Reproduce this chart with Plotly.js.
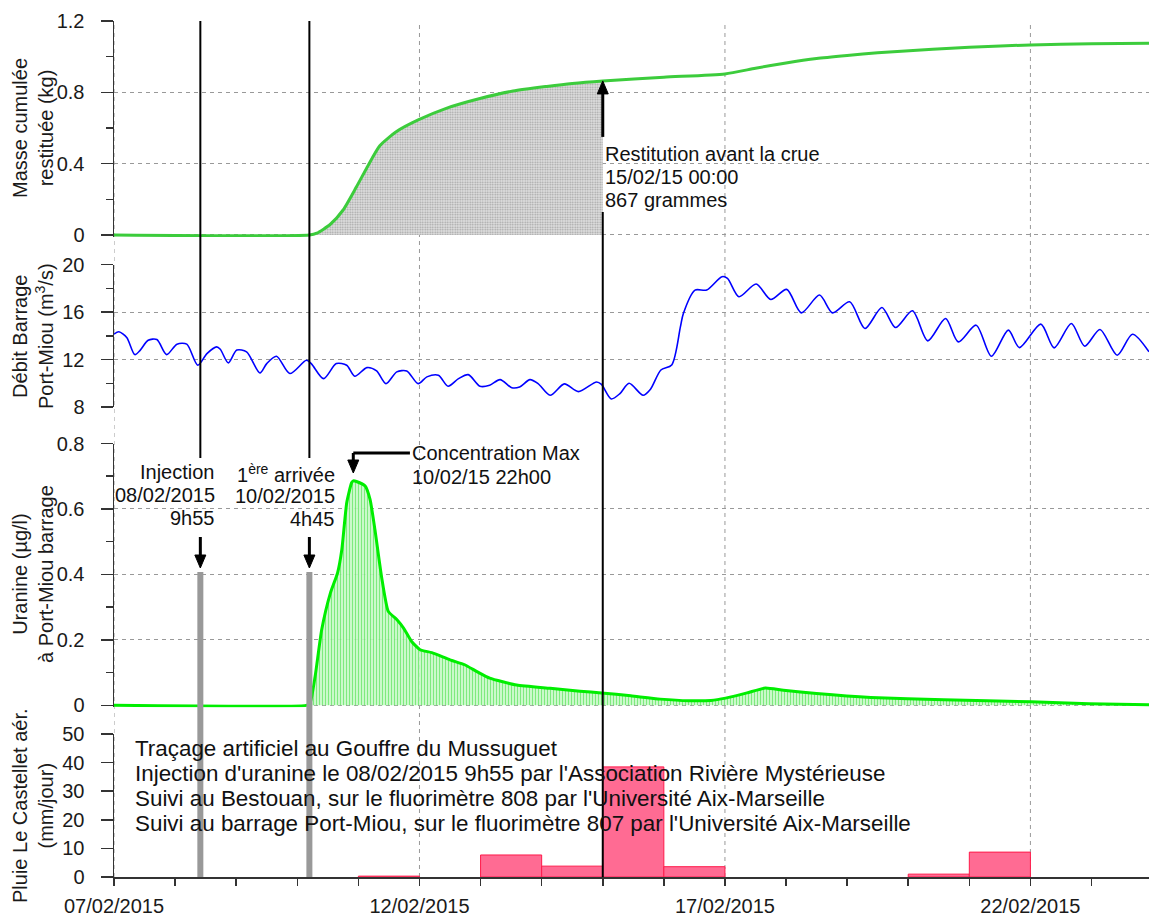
<!DOCTYPE html>
<html><head><meta charset="utf-8">
<script src="https://cdn.plot.ly/plotly-3.0.1.min.js"></script>
<style>html,body{margin:0;padding:0;background:#fff}#chart{width:1149px;height:921px}</style>
</head><body><div id="chart"></div>
<script>
// ---- Data ----
const massTime = ['2015-02-07 00:00','2015-02-10 04:45','2015-02-10 07:40','2015-02-10 13:00','2015-02-10 18:00','2015-02-10 23:15','2015-02-11 03:50','2015-02-11 08:25','2015-02-11 15:00','2015-02-11 23:30','2015-02-12 10:30','2015-02-12 23:45','2015-02-13 12:45','2015-02-14 02:00','2015-02-14 12:00','2015-02-15 00:00','2015-02-16 00:00','2015-02-17 00:00','2015-02-17 12:00','2015-02-18 00:00','2015-02-18 12:00','2015-02-19 00:00','2015-02-19 12:00','2015-02-20 09:35','2015-02-21 00:00','2015-02-22 00:00','2015-02-23 00:00','2015-02-23 22:50'];
const massKg = [0,0,0.01,0.06,0.14,0.27,0.39,0.50,0.58,0.645,0.71,0.765,0.807,0.833,0.85,0.864,0.885,0.903,0.935,0.965,0.99,1.007,1.022,1.042,1.053,1.066,1.072,1.075];

const flowTime = ['2015-02-07 00:00','2015-02-07 01:55','2015-02-07 05:00','2015-02-07 08:10','2015-02-07 10:20','2015-02-07 13:25','2015-02-07 16:50','2015-02-07 20:40','2015-02-08 00:45','2015-02-08 04:35','2015-02-08 08:55','2015-02-08 12:30','2015-02-08 16:20','2015-02-08 17:45','2015-02-08 20:55','2015-02-09 00:15','2015-02-09 04:05','2015-02-09 09:20','2015-02-09 12:00','2015-02-09 15:50','2015-02-09 21:05','2015-02-10 03:35','2015-02-10 05:30','2015-02-10 10:20','2015-02-10 15:20','2015-02-10 19:25','2015-02-10 22:35','2015-02-11 03:20','2015-02-11 07:10','2015-02-11 10:50','2015-02-11 15:05','2015-02-11 19:00','2015-02-11 23:30','2015-02-12 02:55','2015-02-12 07:25','2015-02-12 11:15','2015-02-12 15:20','2015-02-12 19:10','2015-02-12 23:45','2015-02-13 03:35','2015-02-13 07:40','2015-02-13 12:15','2015-02-13 15:20','2015-02-13 19:25','2015-02-13 22:35','2015-02-14 03:20','2015-02-14 08:55','2015-02-14 14:25','2015-02-14 21:35','2015-02-14 23:30','2015-02-15 03:20','2015-02-15 06:45','2015-02-15 10:20','2015-02-15 15:50','2015-02-15 18:45','2015-02-15 22:50','2015-02-16 03:05','2015-02-16 06:30','2015-02-16 07:40','2015-02-16 12:15','2015-02-16 16:50','2015-02-16 22:50','2015-02-17 01:00','2015-02-17 05:30','2015-02-17 12:15','2015-02-17 18:00','2015-02-18 00:15','2015-02-18 06:00','2015-02-18 13:10','2015-02-18 18:15','2015-02-19 01:00','2015-02-19 07:00','2015-02-19 13:40','2015-02-19 19:00','2015-02-20 01:40','2015-02-20 07:40','2015-02-20 14:40','2015-02-20 19:40','2015-02-21 02:40','2015-02-21 08:40','2015-02-21 15:20','2015-02-21 19:40','2015-02-22 04:05','2015-02-22 09:20','2015-02-22 16:05','2015-02-22 21:20','2015-02-23 03:20','2015-02-23 10:05','2015-02-23 16:05','2015-02-23 22:35'];
const flowM3s = [14.14,14.34,13.86,12.42,12.8,13.63,13.69,12.42,13.3,13.3,11.52,12.5,13.07,12.87,11.72,12.8,12.65,10.87,11.66,12.28,10.82,11.94,11.66,10.39,11.66,11.52,10.59,11.32,11.04,9.97,10.96,11.04,9.97,10.54,10.68,9.75,10.39,10.73,9.75,9.83,10.31,9.63,9.69,10.31,9.97,8.99,9.95,9.30,10.11,9.9,8.68,9.13,10.0,8.99,9.5,11.12,11.55,14.76,15.89,17.86,17.86,18.99,18.85,17.30,18.37,17.07,17.92,15.94,17.44,15.94,16.87,14.62,16.39,14.70,16.11,13.58,15.46,13.49,14.90,12.28,14.48,13.01,14.99,12.99,15.04,13.13,14.54,12.37,14.14,12.65];

const uranineTime = ['2015-02-07 00:00','2015-02-10 03:35','2015-02-10 05:00','2015-02-10 07:00','2015-02-10 09:35','2015-02-10 13:00','2015-02-10 15:50','2015-02-10 17:30','2015-02-10 19:25','2015-02-10 21:20','2015-02-10 22:00','2015-02-10 23:15','2015-02-11 02:40','2015-02-11 04:35','2015-02-11 06:30','2015-02-11 09:05','2015-02-11 11:45','2015-02-11 15:05','2015-02-11 17:45','2015-02-11 20:55','2015-02-12 00:15','2015-02-12 04:50','2015-02-12 12:00','2015-02-12 17:45','2015-02-12 22:35','2015-02-13 03:35','2015-02-13 14:10','2015-02-14 03:20','2015-02-14 15:05','2015-02-14 23:30','2015-02-15 11:00','2015-02-15 22:35','2015-02-16 09:50','2015-02-16 18:30','2015-02-17 00:15','2015-02-17 08:40','2015-02-17 15:50','2015-02-17 23:00','2015-02-18 12:00','2015-02-19 09:20','2015-02-20 13:55','2015-02-22 00:15','2015-02-22 23:00','2015-02-23 22:50'];
const uranineUgL = [0,0,0.006,0.088,0.231,0.343,0.405,0.476,0.619,0.680,0.686,0.684,0.670,0.629,0.537,0.394,0.287,0.262,0.236,0.195,0.170,0.161,0.139,0.124,0.103,0.083,0.062,0.052,0.043,0.038,0.029,0.019,0.014,0.015,0.022,0.038,0.053,0.046,0.036,0.024,0.017,0.011,0.005,0.002];

const rainDay = ['2015-02-11','2015-02-13','2015-02-14','2015-02-15','2015-02-16','2015-02-20','2015-02-21'];
const rainMm = [0.3,7.7,3.8,38.5,3.6,1.0,8.7];

const injectionTime = '2015-02-08 09:55';
const arrivalTime = '2015-02-10 04:45';
const peakTime = '2015-02-10 22:00';
const restitutionTime = '2015-02-15 00:00';
const gridDates = ['2015-02-07','2015-02-12','2015-02-17','2015-02-22'];

const yTitles = ['Masse cumulée<br>restituée (kg)', 'Débit Barrage<br>Port-Miou (m<sup>3</sup>/s)', 'Uranine (µg/l)<br>à Port-Miou barrage', 'Pluie Le Castellet aér.<br>(mm/jour)'];
const infoLines = [
  'Traçage artificiel au Gouffre du Mussuguet',
  "Injection d'uranine le 08/02/2015 9h55 par l'Association Rivière Mystérieuse",
  "Suivi au Bestouan, sur le fluorimètre 808 par l'Université Aix-Marseille",
  "Suivi au barrage Port-Miou, sur le fluorimètre 807 par l'Université Aix-Marseille"
];

// ---- Layout helpers (pixel positions -> paper fractions) ----
const ML = 114, MB = 44, PW = 1149 - ML, PH = 921 - MB;
const py = p => (PH - p) / PH;
const px = p => (p - ML) / PW;
const FONT = 'Liberation Sans, Arial, sans-serif';
const DAY = 86400000;

const massFillIdx = massTime.map((t,i)=>i).filter(i => massTime[i] <= restitutionTime);

const traces = [
  {x: massFillIdx.map(i=>massTime[i]), y: massFillIdx.map(i=>massKg[i]), xaxis:'x', yaxis:'y', type:'scatter', mode:'lines',
   line:{width:0, color:'rgba(0,0,0,0)', shape:'spline', smoothing:0.6}, fill:'tozeroy', fillcolor:'#dcdcdc',
   fillpattern:{shape:'.', size:2.5, solidity:0.4, fgcolor:'#a0a0a0', bgcolor:'#e2e2e2'}, hoverinfo:'skip'},
  {x: massTime, y: massKg, xaxis:'x', yaxis:'y', type:'scatter', mode:'lines', line:{color:'#3ccc3c', width:3, shape:'spline', smoothing:0.6}},
  {x: flowTime, y: flowM3s, xaxis:'x', yaxis:'y2', type:'scatter', mode:'lines', line:{color:'#0000ff', width:1.6, shape:'spline', smoothing:0.8}},
  {x: uranineTime, y: uranineUgL, xaxis:'x', yaxis:'y3', type:'scatter', mode:'lines', line:{color:'#00ee00', width:3, shape:'spline', smoothing:0.5},
   fill:'tozeroy', fillcolor:'rgba(190,255,190,0.8)',
   fillpattern:{shape:'|', size:3, solidity:0.4, fgcolor:'rgba(0,210,0,0.4)', bgcolor:'rgba(205,250,205,0.9)'}},
  {x: rainDay.map(d => d + ' 12:00'), y: rainMm, xaxis:'x', yaxis:'y4', type:'bar', width: DAY,
   marker:{color:'#ff6b93', line:{color:'#ff1a4a', width:1}}}
];

const tickFont = {family: FONT, size: 20, color:'#1a1a1a'};
function yax(domain, range, dtick, minorDtick, grid) {
  const a = {domain, range, anchor:'x', dtick, tick0:0, showline:true, linecolor:'#333', linewidth:1.5,
    ticks:'outside', ticklen:12, tickwidth:1.5, tickcolor:'#333', tickfont:tickFont, ticklabelstandoff:12,
    showgrid:grid, gridcolor:'#999', gridwidth:1, griddash:'4px,4px', zeroline:false, fixedrange:true};
  if (minorDtick) a.minor = {dtick:minorDtick, tick0:0, ticks:'outside', ticklen:7, tickwidth:1.5, tickcolor:'#333', showgrid:false};
  return a;
}

const shapes = [];
gridDates.forEach(d => shapes.push({type:'line', xref:'x', yref:'paper', x0:d, x1:d, y0:0, y1:py(21), layer:'below',
  line:{color:'#999', width:1, dash:'4px,4px'}}));
[injectionTime, arrivalTime].forEach(t => {
  shapes.push({type:'line', xref:'x', yref:'paper', x0:t, x1:t, y0:py(458), y1:py(21), line:{color:'#000', width:2}});
  shapes.push({type:'line', xref:'x', yref:'paper', x0:t, x1:t, y0:0, y1:py(572), line:{color:'#999', width:6}});
});
shapes.push({type:'line', xref:'x', yref:'paper', x0:restitutionTime, x1:restitutionTime, y0:0, y1:py(212), line:{color:'#000', width:2}});
const maxLabelTime = '2015-02-11 20:15';
shapes.push({type:'line', xref:'x', yref:'paper', x0:peakTime, x1:maxLabelTime, y0:py(453), y1:py(453), line:{color:'#000', width:3}});

// arrows drawn as shapes: shaft + filled triangular head (pixel-sized, anchored on the data position)
function arrowShape(xval, yref, yval, shaftLen, dir) {
  // dir = -1 : arrow points down (tail above), +1 : arrow points up (tail below)
  const head = 13, half = 5.5;
  const s = -dir; // direction from tip towards tail in pixel-y (up positive)
  shapes.push({type:'line', xref:'x', yref, xsizemode:'pixel', ysizemode:'pixel', xanchor:xval, yanchor:yval,
    x0:0, x1:0, y0:s*(head-1), y1:s*shaftLen, line:{color:'#000', width:3}});
  shapes.push({type:'path', xref:'x', yref, xsizemode:'pixel', ysizemode:'pixel', xanchor:xval, yanchor:yval,
    path:`M 0,0 L ${-half},${s*head} L ${half},${s*head} Z`, fillcolor:'#000', line:{color:'#000', width:1}});
}
arrowShape(injectionTime, 'paper', py(568), 31, -1);
arrowShape(arrivalTime, 'paper', py(568), 31, -1);
arrowShape(peakTime, 'paper', py(473), 20, -1);
arrowShape(restitutionTime, 'y', massKg[massTime.indexOf(restitutionTime)], 56, 1);

const ann = [];
function txt(text, xp, yp, anchor, size) {
  ann.push({text, xref:'paper', yref:'paper', x:px(xp), y:py(yp), xanchor:anchor, yanchor:'middle', showarrow:false,
    font:{family:FONT, size:size||20, color:'#111'}});
}
// y-axis titles
[[yTitles[0],128],[yTitles[1],336],[yTitles[2],574],[yTitles[3],806]].forEach(([t,c]) =>
  ann.push({text:t, xref:'paper', yref:'paper', x:px(33), y:py(c), xanchor:'center', yanchor:'middle', textangle:-90,
    showarrow:false, font:{family:FONT, size:20, color:'#1a1a1a'}}));
txt('Injection', 217, 472, 'right'); txt('08/02/2015', 217, 495, 'right'); txt('9h55', 217, 518, 'right');
txt('1<sup>ère</sup> arrivée', 337, 473, 'right'); txt('10/02/2015', 337, 496, 'right'); txt('4h45', 337, 519, 'right');
txt('Concentration Max', 410, 453, 'left'); txt('10/02/15 22h00', 410, 477, 'left');
txt('Restitution avant la crue', 603, 154, 'left'); txt('15/02/15 00:00', 603, 177, 'left'); txt('867 grammes', 603, 200, 'left');
infoLines.forEach((l,i) => txt(l, 133, 748 + 25*i, 'left', 22.4));

const layout = {
  width:1149, height:921, margin:{l:ML, r:0, t:0, b:MB}, showlegend:false,
  paper_bgcolor:'#fff', plot_bgcolor:'rgba(0,0,0,0)', font:{family:FONT, color:'#1a1a1a'},
  xaxis:{type:'date', range:['2015-02-07 00:00','2015-02-23 22:35'], anchor:'y4', showline:true, linecolor:'#333', linewidth:1.5,
    ticks:'outside', ticklen:7, tickwidth:1.5, tickcolor:'#333', tick0:'2015-02-07', dtick:5*DAY, tickformat:'%d/%m/%Y',
    tickfont:tickFont, ticklabelstandoff:3,
    minor:{dtick:DAY, tick0:'2015-02-07', ticks:'outside', ticklen:7, tickwidth:1.5, tickcolor:'#333', showgrid:false},
    showgrid:false, zeroline:false, fixedrange:true},
  // small margin below 0 so the thick zero-level lines are not half clipped
  yaxis:  yax([py(237.1), py(21)], [-0.012,1.2], 0.4, 0.2, true),
  yaxis2: yax([py(407), py(264.7)], [8,20], 4, 2, true),
  yaxis3: yax([py(707.3), py(443.5)], [-0.006,0.8], 0.2, 0.1, true),
  yaxis4: yax([0, py(734)], [0,50], 10, null, false),
  shapes, annotations: ann, bargap:0
};
Plotly.newPlot('chart', traces, layout, {displayModeBar:false, staticPlot:true});
</script></body></html>
